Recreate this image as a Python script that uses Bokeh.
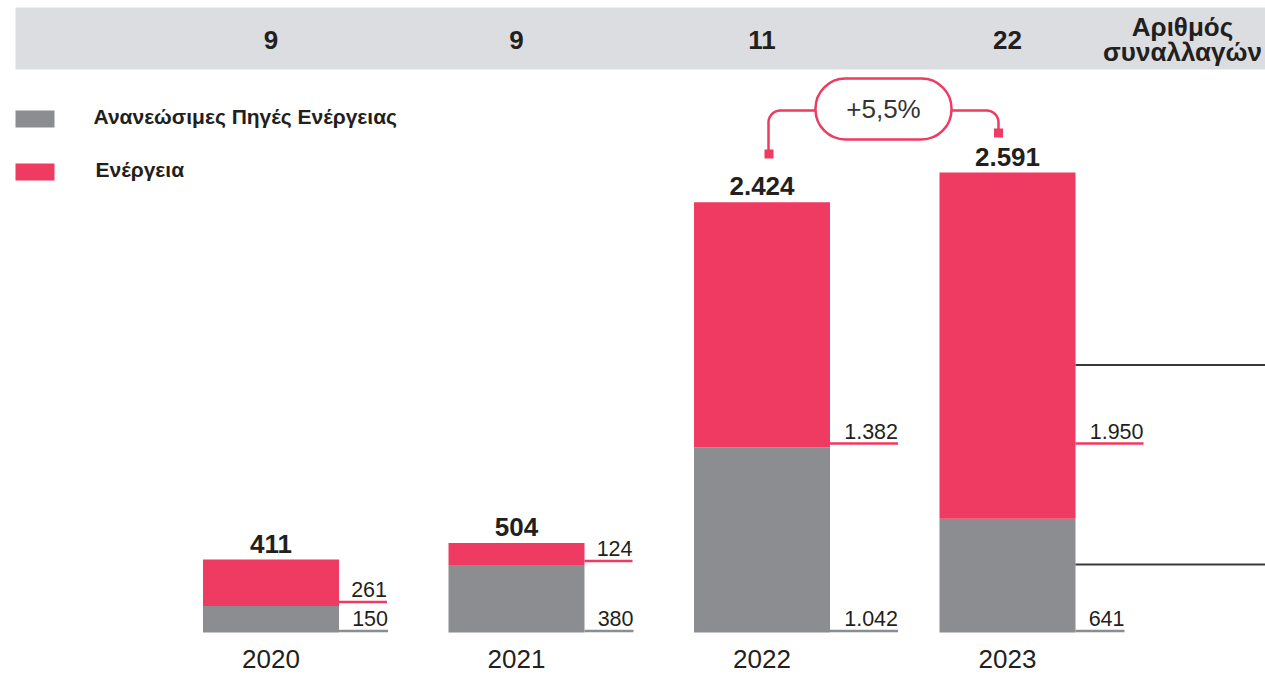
import numpy as np
from bokeh.plotting import figure
from bokeh.models import Range1d, BoxAnnotation, Label
from bokeh.core.properties import value
from bokeh.embed import file_html
from bokeh.resources import INLINE

# ---------------- data ----------------
years = ["2020", "2021", "2022", "2023"]
renewables = [150, 380, 1042, 641]          # Ανανεώσιμες Πηγές Ενέργειας
energy = [261, 124, 1382, 1950]             # Ενέργεια
total_labels = ["411", "504", "2.424", "2.591"]
renew_labels = ["150", "380", "1.042", "641"]
energy_labels = ["261", "124", "1.382", "1.950"]
deals = ["9", "9", "11", "22"]
header_title = ["Αριθμός", "συναλλαγών"]
legend_names = ["Ανανεώσιμες Πηγές Ενέργειας", "Ενέργεια"]
growth_label = "+5,5%"

# ---------------- styles / layout ----------------
RED = "#ef3a62"
GRAY = "#8c8d91"
BAND = "#dcdde0"
TXT = "#231f20"
FONT_NAME = "Liberation Sans"
FONT = value(FONT_NAME)

W, H = 1265, 674
ORG = 0           # page px of figure origin
SX = 245.5        # px per category step
X0PX = 270.5      # page px of first bar centre
SY = 0.1775       # px per unit
BASE = 632        # page px of zero line


def X(px):
    return (np.asarray(px, dtype=float) - X0PX) / SX


def Y(py):
    return (BASE - np.asarray(py, dtype=float)) / SY


p = figure(width=W, height=H, output_backend="svg", toolbar_location=None,
           x_range=Range1d(float(X(ORG)), float(X(ORG + W))),
           y_range=Range1d(float(Y(ORG + H)), float(Y(ORG))),
           x_axis_location=None, y_axis_location=None, min_border=0)
p.grid.visible = False
p.outline_line_color = None
p.background_fill_color = "white"

idx = np.arange(len(years))
ren = np.array(renewables, dtype=float)
ene = np.array(energy, dtype=float)
tot = ren + ene
bw = 136 / SX

# header band
p.quad(left=[X(15)], right=[X(1300)], bottom=[Y(69)], top=[Y(7)],
       fill_color=BAND, line_color=None)
p.text(x=idx, y=[float(Y(39))] * len(idx), text=deals, text_align="center",
       text_baseline="middle", text_font=FONT, text_font_size="26px",
       text_font_style="bold", text_color=TXT)
p.text(x=[X(1182), X(1182)], y=[Y(26.5), Y(51.5)], text=header_title,
       text_align="center", text_baseline="middle", text_font=FONT,
       text_font_size="26px", text_font_style="bold", text_color=TXT)

# legend
p.quad(left=[X(15), X(15)], right=[X(54), X(54)], bottom=[Y(127), Y(180)],
       top=[Y(110), Y(163)], fill_color=[GRAY, RED], line_color=None)
p.text(x=[X(93), X(95)], y=[Y(116), Y(169)], text=legend_names,
       text_align="left", text_baseline="middle", text_font=FONT,
       text_font_size="21px", text_font_style="bold", text_color=TXT)

# bars
p.vbar(x=idx, bottom=0, top=ren, width=bw, fill_color=GRAY, line_color=None)
p.vbar(x=idx, bottom=ren, top=tot, width=bw, fill_color=RED, line_color=None)

# totals
p.text(x=idx, y=tot, text=total_labels, text_align="center",
       text_baseline="middle", y_offset=-16, text_font=FONT,
       text_font_size="26px", text_font_style="bold", text_color=TXT)

# year labels
p.text(x=idx, y=[float(Y(658.5))] * len(idx), text=years, text_align="center",
       text_baseline="middle", text_font=FONT, text_font_size="26px",
       text_color=TXT)

# segment value labels with leader lines
energy_level = [ren[0], ren[1], ren[2], ren[2]]   # label anchor levels
x_start = idx + bw / 2
len_e = np.array([48 if len(s) <= 3 else 68 for s in energy_labels]) / SX
len_r = np.array([49 if len(s) <= 3 else 68 for s in renew_labels]) / SX
ye = np.array(energy_level) + 4 / SY
yr = np.full(len(idx), float(Y(630.5)))
p.segment(x0=x_start, x1=x_start + len_e, y0=ye, y1=ye, line_color=RED,
          line_width=2.5)
p.segment(x0=x_start, x1=x_start + len_r, y0=yr, y1=yr, line_color=GRAY,
          line_width=2.5)
p.text(x=x_start + len_e, y=ye, text=energy_labels, text_align="right",
       text_baseline="middle", y_offset=-12.5, text_font=FONT,
       text_font_size="21.5px", text_color=TXT)
p.text(x=x_start + len_r, y=yr, text=renew_labels, text_align="right",
       text_baseline="middle", y_offset=-12.5, text_font=FONT,
       text_font_size="21.5px", text_color=TXT)

# dark rules on the right
for py in (364.5, 564):
    p.segment(x0=[X(1075)], x1=[X(1300)], y0=[Y(py)], y1=[Y(py)],
              line_color="#3a3a3a", line_width=2)

# growth bubble between 2022 and 2023
t = np.linspace(0, np.pi / 2, 20)
r = 12
lx = np.concatenate([[815], 780 - r * np.sin(t), [768]])
ly = np.concatenate([[110], 122 - r * np.cos(t), [151]])
rx = np.concatenate([[951], 986 + r * np.sin(t), [998]])
ry = np.concatenate([[110], 122 - r * np.cos(t), [130]])
p.line(x=X(lx), y=Y(ly), line_color=RED, line_width=2.5)
p.line(x=X(rx), y=Y(ry), line_color=RED, line_width=2.5)
p.quad(left=[X(764), X(993.5)], right=[X(773), X(1002.5)],
       top=[Y(149), Y(128)], bottom=[Y(158), Y(137)], fill_color=RED,
       line_color=None)

box = BoxAnnotation(left=float(X(815)), right=float(X(951)),
                    top=float(Y(78)), bottom=float(Y(139)),
                    fill_color="white", fill_alpha=1.0, line_color=RED,
                    line_alpha=1.0, line_width=2.5, border_radius=30)
p.add_layout(box)
p.add_layout(Label(x=float(X(883)), y=float(Y(108)), text=growth_label,
                   text_align="center", text_baseline="middle",
                   text_font=FONT_NAME, text_font_size="26px",
                   text_color="#333333"))

open("out.html", "w").write(file_html(p, INLINE))
